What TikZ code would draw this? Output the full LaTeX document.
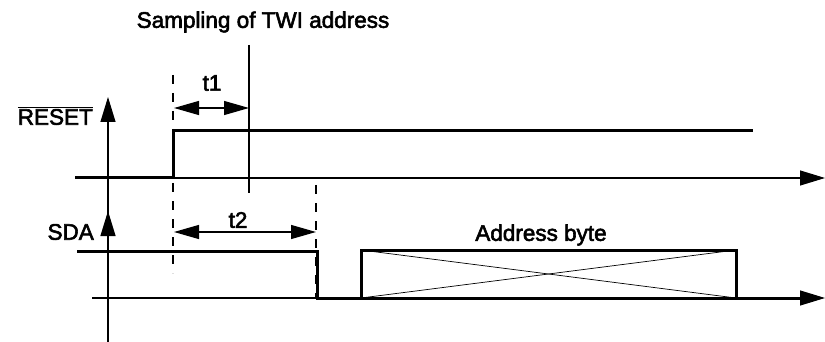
\documentclass[tikz,border=0pt]{standalone}
\usepackage{fontspec}
\setmainfont{Liberation Sans}
\newfontfamily\lblfont[FakeBold=2.5]{Liberation Sans}
\usetikzlibrary{arrows.meta}
\begin{document}
\begin{tikzpicture}[x=1pt,y=-1pt,
  axisline/.style={line width=1.2pt},
  signal/.style={line width=3pt},
  thinline/.style={line width=1.2pt},
  dashline/.style={line width=1.2pt, dash pattern=on 9pt off 9pt},
  bigtip/.style={-{Triangle[length=25pt,width=15pt]}},
  dimarrow/.style={{Triangle[length=25pt,width=14pt]}-{Triangle[length=25pt,width=14pt]}, line width=1.2pt},
  lbl/.style={font=\lblfont\fontsize{22.5}{25}\selectfont, inner sep=0pt}
]
\useasboundingbox (0,0) rectangle (825,342);
% coordinates
\coordinate (vbot) at (108,342);
\coordinate (vtop) at (108,97);
\coordinate (sdabase) at (108,240);
\coordinate (sdatip) at (108,211);
\coordinate (ax1s) at (75,178);
\coordinate (ax1e) at (825,178);
\coordinate (ax2s) at (92,298);
\coordinate (ax2e) at (825,298);
% vertical axis with arrows
\draw[axisline,bigtip] (vbot) -- (vtop);
\draw[axisline,bigtip] (sdabase) -- (sdatip);
% horizontal axes
\draw[axisline,bigtip] (ax1s) -- (ax1e);
\draw[axisline,bigtip] (ax2s) -- (ax2e);
% RESET signal
\coordinate (r0) at (75,178);
\coordinate (r1) at (173,178);
\coordinate (r2) at (173,131);
\coordinate (r3) at (753,131);
\draw[signal,line join=miter] (r0) -- (r1) -- (r2) -- (r3);
% SDA signal
\coordinate (s0) at (77,251);
\coordinate (s1) at (317,251);
\coordinate (s2) at (317,298);
\coordinate (s3) at (361,298);
\coordinate (b1) at (361,250);
\coordinate (b2) at (736,250);
\coordinate (b3) at (736,298);
\coordinate (s4) at (800,298);
\draw[signal,line join=miter] (s0) -- (s1) -- (s2) -- (s3);
\draw[signal,line join=miter] (s2) -- (s4);
\draw[signal,line join=miter] (s3) -- (b1) -- (b2) -- (b3);
\draw[line width=0.7pt] (b1) -- (b3);
\draw[line width=0.7pt] (s3) -- (b2);
% dashed markers
\coordinate (d1t) at (173,75);
\coordinate (d1b) at (173,273);
\coordinate (d2t) at (316,185);
\coordinate (d2b) at (316,298);
\draw[dashline] (d1t) -- (d1b);
\draw[dashline] (d2t) -- (d2b);
% sampling line
\coordinate (smt) at (249,45);
\coordinate (smb) at (249,193);
\draw[thinline] (smt) -- (smb);
% dimension arrows
\coordinate (t1a) at (174,108);
\coordinate (t1b) at (249,108);
\draw[dimarrow] (t1a) -- (t1b);
\coordinate (t2a) at (174,232);
\coordinate (t2b) at (316,232);
\draw[dimarrow] (t2a) -- (t2b);
% labels
\node[lbl] (samp) at (263,22) {Sampling of TWI address};
\node[lbl] (t1) at (212,83) {t1};
\node[lbl] (t2) at (238,220) {t2};
\node[lbl] (addr) at (541,235) {Address byte};
\node[lbl,anchor=east] (reset) at (93,116) {$\overline{\mbox{\lblfont RESET}}$};
\node[lbl,anchor=east] (sda) at (94,232) {SDA};
\end{tikzpicture}
\end{document}
